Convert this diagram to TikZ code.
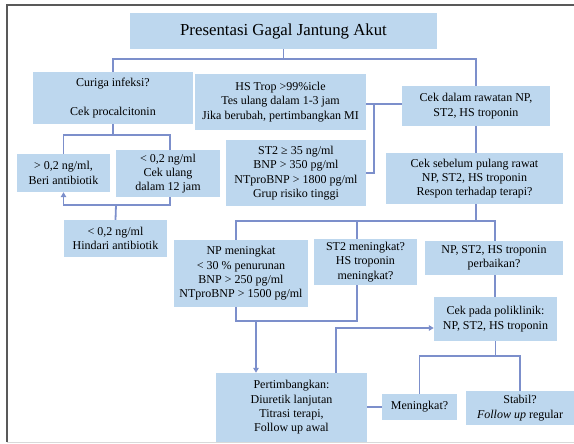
\documentclass[tikz,border=0pt]{standalone}
\usepackage{fontspec}
\setmainfont{Liberation Serif}
\usetikzlibrary{arrows.meta}
\definecolor{boxblue}{RGB}{189,215,238}
\definecolor{linkblue}{RGB}{124,143,203}
\begin{document}
\begin{tikzpicture}[x=1pt,y=-1pt,
  box/.style={fill=boxblue, inner sep=0pt, align=center,
    font=\fontsize{12}{14.3}\selectfont},
  link/.style={draw=linkblue, line width=1.8pt},
  arr/.style={link, -{Triangle[length=5pt,width=5.5pt]}}]
\useasboundingbox (0,0) rectangle (574,444);
% frame
\draw[line width=1.3pt, black!65] (7,442) -- (7,5) -- (574,5);
\draw[line width=0.8pt, black!15] (7,442.5) -- (574,442.5);

% boxes
\node[box, minimum width=307pt, minimum height=36pt, font=\fontsize{16.8}{20}\selectfont] (t) at (283.5,31) {Presentasi Gagal Jantung Akut};
\node[box, minimum width=160pt, minimum height=52pt] (cur) at (113,98) {Curiga infeksi?\\[14.3pt]Cek procalcitonin};
\node[box, minimum width=171pt, minimum height=56pt] (hs) at (280.5,102) {HS Trop >99\%icle\\Tes ulang dalam 1-3 jam\\Jika berubah, pertimbangkan MI};
\node[box, minimum width=148pt, minimum height=40pt] (raw) at (476,106) {Cek dalam rawatan NP,\\ST2, HS troponin};
\node[box, minimum width=140pt, minimum height=66pt] (st2) at (296,173) {ST2 ≥ 35 ng/ml\\BNP > 350 pg/ml\\NTproBNP > 1800 pg/ml\\Grup risiko tinggi};
\node[box, minimum width=177pt, minimum height=51pt] (pul) at (474.5,178.5) {Cek sebelum pulang rawat\\NP, ST2, HS troponin\\Respon terhadap terapi?};
\node[box, minimum width=93pt, minimum height=38pt] (gt) at (63.5,173) {> 0,2 ng/ml,\\Beri antibiotik};
\node[box, minimum width=104pt, minimum height=47pt] (lt) at (168,173.5) {< 0,2 ng/ml\\Cek ulang\\dalam 12 jam};
\node[box, minimum width=103pt, minimum height=37pt] (hin) at (115.5,238.5) {< 0,2 ng/ml\\Hindari antibiotik};
\node[box, minimum width=134pt, minimum height=67pt] (npm) at (241,273.5) {NP meningkat\\< 30 \% penurunan\\BNP > 250 pg/ml\\NTproBNP > 1500 pg/ml};
\node[box, minimum width=103pt, minimum height=46pt] (st2m) at (365.5,262) {ST2 meningkat?\\HS troponin\\meningkat?};
\node[box, minimum width=138pt, minimum height=34pt] (perb) at (494,258) {NP, ST2, HS troponin\\perbaikan?};
\node[box, minimum width=123pt, minimum height=44pt] (poli) at (495.5,319) {Cek pada poliklinik:\\NP, ST2, HS troponin};
\node[box, minimum width=151pt, minimum height=69pt] (pert) at (291.5,407.5) {Pertimbangkan:\\Diuretik lanjutan\\Titrasi terapi,\\Follow up awal};
\node[box, minimum width=75pt, minimum height=26pt] (men) at (419.5,407) {Meningkat?};
\node[box, minimum width=108pt, minimum height=34pt] (stab) at (520,408) {Stabil?\\\textit{Follow up} regular};

% junctions
\coordinate (j1) at (283.5,59);
\coordinate (j2) at (113,135);
\coordinate (j3) at (116,205);
\coordinate (j4) at (374,104);
\coordinate (j6) at (476,221);
\coordinate (j7) at (256,321);
\coordinate (j9) at (336,328);
\coordinate (j10) at (495.5,356);

% connectors
\draw[link] (t.south) -- (j1);
\draw[link] (cur.north) |- (j1) -| (raw.north);
\draw[link] (cur.south) -- (j2);
\draw[link] (gt.north) |- (j2) -| ([xshift=2pt]lt.north);
\draw[arr] ([xshift=2pt]lt.south) |- (j3) -| (gt.south);
\draw[link] (j3) -- (hin.north);
\draw[link] (hs.east |- j4) -- (raw.west |- j4);
\draw[link] (j4) |- (st2.east);
\draw[link] (raw.south) -- (raw.south |- pul.north);
\draw[link] (raw.south |- pul.south) -- (j6);
\draw[link] ([xshift=-5pt]npm.north) |- (j6) -| ([xshift=1pt]perb.north);
\draw[link] ([xshift=-8.5pt]st2m.north) -- ([xshift=-8.5pt]st2m.north |- j6);
\draw[link] ([xshift=-5pt]npm.south) |- (j7) -| ([xshift=-8.5pt]st2m.south);
\draw[arr] (j7) -- (j7 |- pert.north);
\draw[link] ([xshift=1pt]perb.south) -- ([xshift=1pt]perb.south |- poli.north);
\draw[arr] (j9 |- pert.north) |- (poli.west |- j9);
\draw[link] (poli.south) -- (j10);
\draw[link] (men.north) |- (j10) -| (stab.north);
\draw[link] (men.west) -- (pert.east |- men.west);
\end{tikzpicture}
\end{document}
